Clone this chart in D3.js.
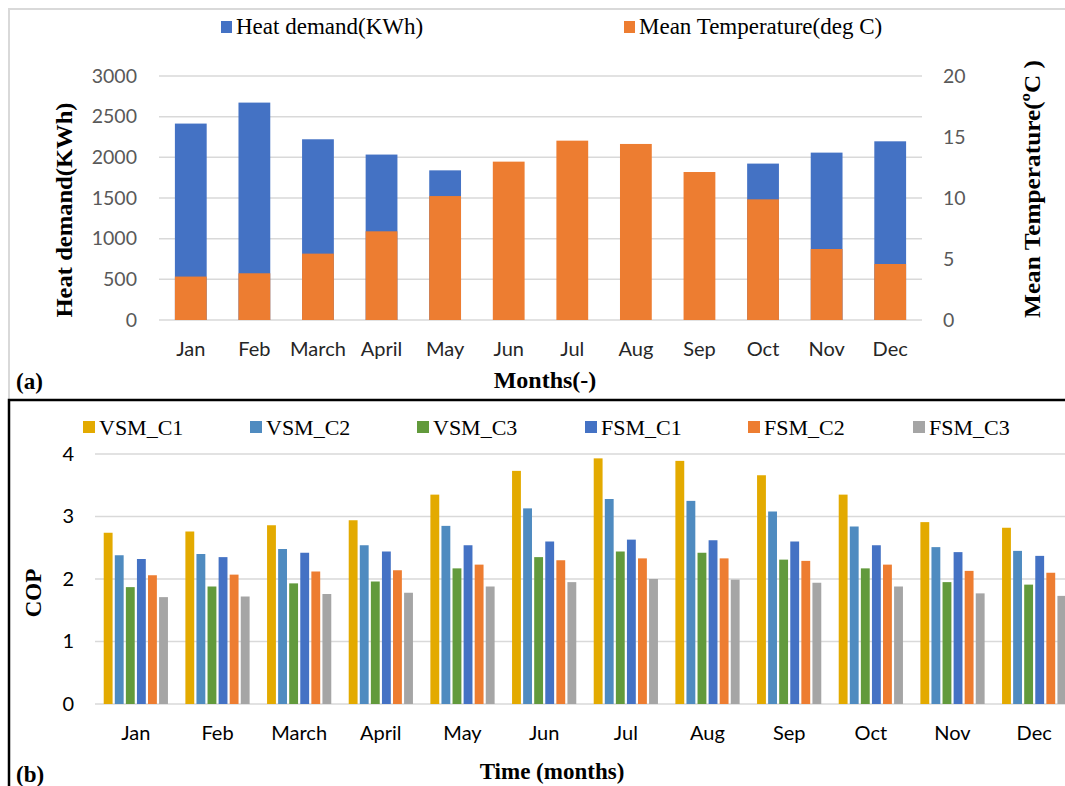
<!DOCTYPE html>
<html>
<head>
<meta charset="utf-8">
<script src="https://cdn.jsdelivr.net/npm/d3@7"></script>
<style>
  body { margin: 0; background: #fff; }
  svg { display: block; }
  .tick text { font-family: Lato, "Open Sans", sans-serif; }
</style>
</head>
<body>
<svg id="chart" width="1065" height="786"></svg>
<script>
// months shared by both panels
const months = ["Jan", "Feb", "March", "April", "May", "Jun", "Jul", "Aug", "Sep", "Oct", "Nov", "Dec"];

// panel (a)
const heatDemand = [2415, 2673, 2222, 2034, 1840, 0, 0, 0, 0, 1923, 2058, 2197];
const meanTemp = [3.56, 3.83, 5.44, 7.27, 10.16, 12.98, 14.7, 14.43, 12.13, 9.89, 5.82, 4.59];
const heatTicks = [0, 500, 1000, 1500, 2000, 2500, 3000];
const tempTicks = [0, 5, 10, 15, 20];

// panel (b)
const copSeries = ["VSM_C1", "VSM_C2", "VSM_C3", "FSM_C1", "FSM_C2", "FSM_C3"];
const vsmC1 = [2.74, 2.76, 2.86, 2.94, 3.35, 3.73, 3.93, 3.89, 3.66, 3.35, 2.91, 2.82];
const vsmC2 = [2.38, 2.40, 2.48, 2.54, 2.85, 3.13, 3.28, 3.25, 3.08, 2.84, 2.51, 2.45];
const vsmC3 = [1.87, 1.88, 1.93, 1.96, 2.17, 2.35, 2.44, 2.42, 2.31, 2.17, 1.95, 1.91];
const fsmC1 = [2.32, 2.35, 2.42, 2.44, 2.54, 2.60, 2.63, 2.62, 2.60, 2.54, 2.43, 2.37];
const fsmC2 = [2.06, 2.07, 2.12, 2.14, 2.23, 2.30, 2.33, 2.33, 2.29, 2.23, 2.13, 2.10];
const fsmC3 = [1.71, 1.72, 1.76, 1.78, 1.88, 1.95, 2.00, 1.99, 1.94, 1.88, 1.77, 1.73];
const copTicks = [0, 1, 2, 3, 4];

const copValues = [vsmC1, vsmC2, vsmC3, fsmC1, fsmC2, fsmC3];
const copColors = ["#e3aa00", "#4f8bc0", "#629a3c", "#4472c4", "#ed7d31", "#a5a5a5"];
const blue = "#4472c4", orange = "#ed7d31", grid = "#d9d9d9";
const serif = "'Liberation Serif', 'Times New Roman', serif";

const svg = d3.select("#chart");

// frames
svg.append("rect")
  .attr("x", 9).attr("y", 9).attr("width", 1070).attr("height", 391)
  .attr("fill", "none").attr("stroke", "#d9d9d9").attr("stroke-width", 2);
svg.append("path")
  .attr("d", "M9,800 V400 H1070")
  .attr("fill", "none").attr("stroke", "#000").attr("stroke-width", 2.5);

// ---------- panel (a) ----------
const xa = d3.scaleBand().domain(months).range([159, 922]).paddingInner(0.5).paddingOuter(0.25);
const yHeat = d3.scaleLinear().domain([0, 3000]).range([320, 76]);
const yTemp = d3.scaleLinear().domain([0, 20]).range([320, 76]);

const ga = svg.append("g");

ga.append("g")
  .selectAll("line")
  .data(heatTicks)
  .join("line")
  .attr("x1", 159).attr("x2", 922)
  .attr("y1", d => yHeat(d)).attr("y2", d => yHeat(d))
  .attr("stroke", grid).attr("stroke-width", 1.5);

ga.append("g")
  .selectAll("rect")
  .data(months)
  .join("rect")
  .attr("x", d => xa(d))
  .attr("width", xa.bandwidth())
  .attr("y", (d, i) => yHeat(heatDemand[i]))
  .attr("height", (d, i) => yHeat(0) - yHeat(heatDemand[i]))
  .attr("fill", blue);

ga.append("g")
  .selectAll("rect")
  .data(months)
  .join("rect")
  .attr("x", d => xa(d))
  .attr("width", xa.bandwidth())
  .attr("y", (d, i) => yTemp(meanTemp[i]))
  .attr("height", (d, i) => yTemp(0) - yTemp(meanTemp[i]))
  .attr("fill", orange);

const axLeft = ga.append("g")
  .attr("transform", "translate(147,0)")
  .call(d3.axisLeft(yHeat).tickValues(heatTicks).tickFormat(d3.format("d")).tickSize(0).tickPadding(10));
axLeft.select(".domain").remove();
axLeft.selectAll("text").attr("font-size", 19.5).attr("fill", "#595959");

const axRight = ga.append("g")
  .attr("transform", "translate(933,0)")
  .call(d3.axisRight(yTemp).tickValues(tempTicks).tickFormat(d3.format("d")).tickSize(0).tickPadding(10));
axRight.select(".domain").remove();
axRight.selectAll("text").attr("font-size", 19.5).attr("fill", "#595959");

const axBottomA = ga.append("g")
  .attr("transform", "translate(0,342)")
  .call(d3.axisBottom(xa).tickSize(0).tickPadding(0));
axBottomA.select(".domain").remove();
axBottomA.selectAll("text").attr("font-size", 20).attr("fill", "#262626");

ga.append("text")
  .attr("transform", "translate(72,210) rotate(-90)")
  .attr("text-anchor", "middle")
  .attr("font-family", serif).attr("font-weight", "bold").attr("font-size", 24)
  .attr("textLength", 215).attr("lengthAdjust", "spacingAndGlyphs")
  .text("Heat demand(KWh)");

ga.append("text")
  .attr("transform", "translate(1040,189) rotate(-90)")
  .attr("text-anchor", "middle")
  .attr("font-family", serif).attr("font-weight", "bold").attr("font-size", 24)
  .attr("textLength", 258).attr("lengthAdjust", "spacingAndGlyphs")
  .text("Mean Temperature(ºC )");

ga.append("text")
  .attr("x", 545).attr("y", 388)
  .attr("text-anchor", "middle")
  .attr("font-family", serif).attr("font-weight", "bold").attr("font-size", 24)
  .text("Months(-)");

ga.append("text")
  .attr("x", 16).attr("y", 389)
  .attr("font-family", serif).attr("font-weight", "bold").attr("font-size", 23)
  .text("(a)");

// legend (a)
const legendA = [
  { label: "Heat demand(KWh)", color: blue, x: 221 },
  { label: "Mean Temperature(deg C)", color: orange, x: 624 }
];
const la = ga.append("g").selectAll("g").data(legendA).join("g")
  .attr("transform", d => `translate(${d.x},21)`);
la.append("rect").attr("width", 11).attr("height", 12).attr("fill", d => d.color);
la.append("text")
  .attr("x", 15).attr("y", 13)
  .attr("font-family", serif).attr("font-size", 23)
  .text(d => d.label);

// ---------- panel (b) ----------
const x0 = d3.scaleBand().domain(months).range([95, 1075]).paddingInner(0.2).paddingOuter(0.1);
const x1 = d3.scaleBand().domain(copSeries).range([0, x0.bandwidth()]).paddingInner(0.2).paddingOuter(0.05);
const yCop = d3.scaleLinear().domain([0, 4]).range([704, 454]);

const gb = svg.append("g");

gb.append("g")
  .selectAll("line")
  .data(copTicks)
  .join("line")
  .attr("x1", 95).attr("x2", 1075)
  .attr("y1", d => yCop(d)).attr("y2", d => yCop(d))
  .attr("stroke", grid).attr("stroke-width", 1.5);

const groups = gb.append("g")
  .selectAll("g")
  .data(months)
  .join("g")
  .attr("transform", d => `translate(${x0(d)},0)`);

groups.selectAll("rect")
  .data((m, i) => copSeries.map((s, k) => ({ series: s, value: copValues[k][i], color: copColors[k] })))
  .join("rect")
  .attr("x", d => x1(d.series))
  .attr("width", x1.bandwidth())
  .attr("y", d => yCop(d.value))
  .attr("height", d => yCop(0) - yCop(d.value))
  .attr("fill", d => d.color);

const axLeftB = gb.append("g")
  .attr("transform", "translate(84,0)")
  .call(d3.axisLeft(yCop).tickValues(copTicks).tickFormat(d3.format("d")).tickSize(0).tickPadding(10));
axLeftB.select(".domain").remove();
axLeftB.selectAll("text").attr("font-size", 20).attr("fill", "#000");

const axBottomB = gb.append("g")
  .attr("transform", "translate(0,726)")
  .call(d3.axisBottom(x0).tickSize(0).tickPadding(0));
axBottomB.select(".domain").remove();
axBottomB.selectAll("text").attr("font-size", 20).attr("fill", "#000");

gb.append("text")
  .attr("transform", "translate(41,593) rotate(-90)")
  .attr("text-anchor", "middle")
  .attr("font-family", serif).attr("font-weight", "bold").attr("font-size", 23)
  .text("COP");

gb.append("text")
  .attr("x", 552).attr("y", 779)
  .attr("text-anchor", "middle")
  .attr("font-family", serif).attr("font-weight", "bold").attr("font-size", 23)
  .text("Time (months)");

gb.append("text")
  .attr("x", 16).attr("y", 782)
  .attr("font-family", serif).attr("font-weight", "bold").attr("font-size", 23)
  .text("(b)");

// legend (b)
const legendX = [83, 250, 417, 585, 748, 913];
const lb = gb.append("g").selectAll("g").data(copSeries).join("g")
  .attr("transform", (d, i) => `translate(${legendX[i]},421)`);
lb.append("rect").attr("width", 12).attr("height", 12).attr("fill", (d, i) => copColors[i]);
lb.append("text")
  .attr("x", 16).attr("y", 14)
  .attr("font-family", serif).attr("font-size", 22)
  .text(d => d);
</script>
</body>
</html>
